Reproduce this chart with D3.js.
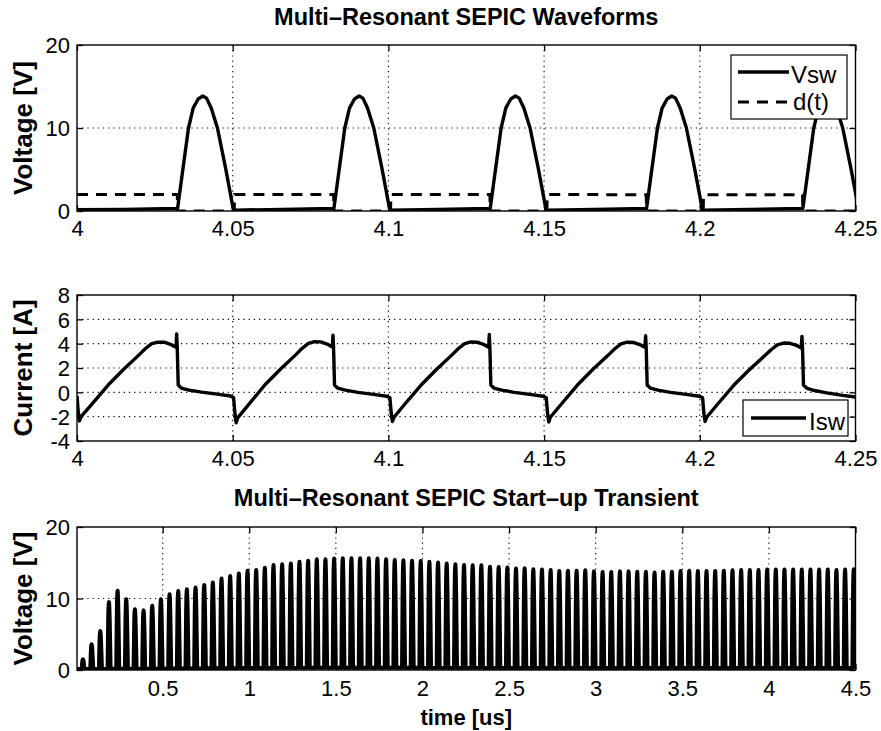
<!DOCTYPE html>
<html><head><meta charset="utf-8">
<script src="https://cdn.jsdelivr.net/npm/d3@7"></script>
<style>
body{margin:0;background:#fff}
svg{display:block}
text{font-family:"Liberation Sans",Arial,Helvetica,sans-serif;fill:#000}
</style>
</head><body>
<svg id="c" width="881" height="731"></svg>
<script>
// ---------------- DATA ----------------
const wfTicksX = [4, 4.05, 4.1, 4.15, 4.2, 4.25];
const wfTickLabels = ["4", "4.05", "4.1", "4.15", "4.2", "4.25"];
const vTicks = [0, 10, 20];
const vTickLabels = ["0", "10", "20"];
const iTicks = [-4, -2, 0, 2, 4, 6, 8];
const iTickLabels = ["-4", "-2", "0", "2", "4", "6", "8"];
const trTicksX = [0.5, 1, 1.5, 2, 2.5, 3, 3.5, 4, 4.5];
const trTickLabels = ["0.5", "1", "1.5", "2", "2.5", "3", "3.5", "4", "4.5"];

// Vsw (top panel) [time us, volts]
const vswPts = [
 [4.0000,0.15],[4.0150,0.2],[4.0320,0.3],
 [4.0323,0.3],[4.0341,5.3],[4.0358,10.0],[4.0373,12.4],[4.0389,13.5],[4.0404,13.85],[4.0416,13.6],[4.0431,12.4],[4.0451,10.0],[4.0477,5.2],[4.0502,0.2],
 [4.0507,0.1],[4.0660,0.2],[4.0822,0.3],
 [4.0825,0.3],[4.0843,5.3],[4.0860,10.0],[4.0875,12.4],[4.0891,13.5],[4.0906,13.85],[4.0918,13.6],[4.0933,12.4],[4.0953,10.0],[4.0979,5.2],[4.1004,0.2],
 [4.1009,0.1],[4.1160,0.2],[4.1324,0.3],
 [4.1327,0.3],[4.1345,5.3],[4.1362,10.0],[4.1377,12.4],[4.1393,13.5],[4.1408,13.85],[4.1420,13.6],[4.1435,12.4],[4.1455,10.0],[4.1481,5.2],[4.1506,0.2],
 [4.1511,0.1],[4.1660,0.2],[4.1826,0.3],
 [4.1829,0.3],[4.1847,5.3],[4.1864,10.0],[4.1879,12.4],[4.1895,13.5],[4.1910,13.85],[4.1922,13.6],[4.1937,12.4],[4.1957,10.0],[4.1983,5.2],[4.2008,0.2],
 [4.2013,0.1],[4.2160,0.2],[4.2328,0.3],
 [4.2331,0.3],[4.2349,5.3],[4.2366,10.0],[4.2381,12.4],[4.2397,13.5],[4.2412,13.85],[4.2424,13.6],[4.2439,12.4],[4.2459,10.0],[4.2485,5.2],[4.2510,0.2]
];
// d(t) (top panel)
const dPts = [
 [4.0000,2.0],[4.0322,2.0],[4.0323,0],[4.0505,0],[4.0506,2.0],
 [4.0824,2.0],[4.0825,0],[4.1007,0],[4.1008,2.0],
 [4.1326,2.0],[4.1327,0],[4.1509,0],[4.1510,2.0],
 [4.1828,1.95],[4.1829,0],[4.2011,0],[4.2012,1.95],
 [4.2330,1.95],[4.2331,0],[4.2500,0]
];
// Isw (middle panel) [time us, amps]
const iswPts = [
 [4.0000,-0.3],[4.0004,-1.6],[4.0008,-2.35],[4.0013,-2.0],[4.0050,-0.9],[4.0100,0.6],[4.0150,1.9],[4.0200,3.1],[4.0220,3.6],[4.0240,4.0],[4.0260,4.13],[4.0280,4.12],[4.0300,3.95],[4.0318,3.7],[4.0320,4.8],[4.0322,3.6],[4.0325,0.6],[4.0335,0.35],[4.0360,0.18],[4.0400,0.02],[4.0450,-0.15],[4.0493,-0.3],[4.0503,-0.45],[4.0507,-1.7],
 [4.0511,-2.5],[4.0516,-2.1],[4.0553,-0.95],[4.0603,0.6],[4.0653,1.9],[4.0703,3.1],[4.0723,3.62],[4.0743,4.02],[4.0763,4.17],[4.0783,4.15],[4.0803,3.97],[4.0820,3.72],[4.0822,4.7],[4.0824,3.6],[4.0827,0.6],[4.0837,0.35],[4.0862,0.18],[4.0902,0.0],[4.0952,-0.17],[4.0995,-0.32],[4.1005,-0.45],[4.1009,-1.7],
 [4.1013,-2.4],[4.1018,-2.05],[4.1055,-0.9],[4.1105,0.6],[4.1155,1.9],[4.1205,3.1],[4.1225,3.6],[4.1245,4.0],[4.1265,4.14],[4.1285,4.12],[4.1305,3.95],[4.1322,3.7],[4.1324,4.75],[4.1326,3.6],[4.1329,0.6],[4.1339,0.35],[4.1364,0.18],[4.1404,0.0],[4.1454,-0.17],[4.1497,-0.32],[4.1507,-0.45],[4.1511,-1.7],
 [4.1515,-2.45],[4.1520,-2.05],[4.1557,-0.92],[4.1607,0.6],[4.1657,1.9],[4.1707,3.08],[4.1727,3.58],[4.1747,3.98],[4.1767,4.12],[4.1787,4.1],[4.1807,3.93],[4.1824,3.7],[4.1826,4.65],[4.1828,3.6],[4.1831,0.6],[4.1841,0.35],[4.1866,0.18],[4.1906,0.0],[4.1956,-0.17],[4.1999,-0.32],[4.2009,-0.45],[4.2013,-1.7],
 [4.2017,-2.4],[4.2022,-2.05],[4.2059,-0.92],[4.2109,0.58],[4.2159,1.85],[4.2209,3.02],[4.2229,3.5],[4.2249,3.9],[4.2269,4.05],[4.2289,4.03],[4.2309,3.88],[4.2326,3.65],[4.2328,4.6],[4.2330,3.55],[4.2333,0.6],[4.2343,0.35],[4.2368,0.15],[4.2408,-0.05],[4.2458,-0.25],[4.2500,-0.38]
];
// Start-up transient: peak voltage of each switching pulse (one every 0.05 us, first peak at 0.04 us)
const trFirstPeak = 0.04;
const trPeriod = 0.05;
const trPeaks = [
 1.5,3.6,5.45,9.5,11.1,9.9,8.5,8.35,9.0,9.9,
 10.6,11.05,11.3,11.55,11.9,12.25,12.8,13.15,13.5,13.9,
 14.0,14.3,14.7,14.8,14.9,15.15,15.3,15.5,15.5,15.6,
 15.65,15.65,15.65,15.65,15.6,15.5,15.4,15.35,15.3,15.25,
 15.15,15.05,14.9,14.8,14.7,14.65,14.65,14.45,14.4,14.35,
 14.2,14.25,14.1,14.05,14.0,13.85,13.9,13.9,13.95,13.8,
 13.7,13.7,13.8,13.8,13.75,13.75,13.65,13.75,13.75,13.85,
 13.9,13.85,13.85,13.85,13.9,13.95,14.0,14.0,14.0,14.05,
 14.05,14.05,14.05,14.05,14.05,14.05,14.05,14.0,14.05,14.1
];
// pulse shape relative to its peak (time offset us, fraction of peak)
const pulseDt   = [-0.0083,-0.0065,-0.0048,-0.0033,-0.0017,0,0.0012,0.0027,0.0047,0.0073,0.0098];
const pulseFrac = [0.02,0.38,0.72,0.9,0.975,1,0.98,0.9,0.72,0.37,0.02];
const trBase = 0.15;

// ---------------- DRAW ----------------
const svg = d3.select("#c");
svg.append("rect").attr("width",881).attr("height",731).attr("fill","#fff");
const FONT = '"Liberation Sans",Arial,Helvetica,sans-serif';

function panel(o){
  const g = svg.append("g");
  const x = d3.scaleLinear().domain(o.xDomain).range([o.left,o.right]);
  const y = d3.scaleLinear().domain(o.yDomain).range([o.bottom,o.top]);
  const cid = "clip"+o.id;
  svg.append("clipPath").attr("id",cid).append("rect")
    .attr("x",o.left).attr("y",o.top).attr("width",o.right-o.left).attr("height",o.bottom-o.top);
  const gg = g.append("g").attr("stroke","#000").attr("stroke-width",1.1).attr("stroke-dasharray","1.2,4");
  o.xGrid.forEach(v=>gg.append("line").attr("x1",x(v)).attr("x2",x(v)).attr("y1",o.top).attr("y2",o.bottom));
  o.yGrid.forEach(v=>gg.append("line").attr("x1",o.left).attr("x2",o.right).attr("y1",y(v)).attr("y2",y(v)));
  const dg = g.append("g").attr("clip-path",`url(#${cid})`);
  return {g,x,y,dg,o};
}
function axes(p){
  const {g,x,y,o} = p;
  const ax = g.append("g").attr("transform",`translate(0,${o.bottom})`)
    .call(d3.axisBottom(x).tickValues(o.xTicks).tickFormat((d,i)=>o.xLabels[i]).tickSize(-6).tickSizeOuter(0));
  const ay = g.append("g").attr("transform",`translate(${o.left},0)`)
    .call(d3.axisLeft(y).tickValues(o.yTicks).tickFormat((d,i)=>o.yLabels[i]).tickSize(-6).tickSizeOuter(0));
  const at = g.append("g").attr("transform",`translate(0,${o.top})`)
    .call(d3.axisTop(x).tickValues(o.xTicks).tickFormat("").tickSize(-6).tickSizeOuter(0));
  const ar = g.append("g").attr("transform",`translate(${o.right},0)`)
    .call(d3.axisRight(y).tickValues(o.yTicks).tickFormat("").tickSize(-6).tickSizeOuter(0));
  [ax,ay,at,ar].forEach(a=>{a.select(".domain").remove(); a.selectAll("line").attr("stroke-width",1.3);
    a.attr("font-family",FONT).attr("font-size",22);});
  ax.selectAll("text").attr("y",o.xLabelOff).attr("dy",0).style("font-size","22px");
  ay.selectAll("text").attr("x",-7).attr("dy","0.36em").style("font-size","22px");
  g.append("rect").attr("x",o.left).attr("y",o.top).attr("width",o.right-o.left).attr("height",o.bottom-o.top)
    .attr("fill","none").attr("stroke","#000").attr("stroke-width",1.4);
  g.append("text").attr("transform",`translate(${o.yLabelX},${(o.top+o.bottom)/2}) rotate(-90)`)
    .attr("text-anchor","middle").style("font-size","26px").style("font-weight","bold").text(o.yTitle);
}

const L = 77, R = 855.5;
// ---- Panel 1
const p1 = panel({id:1,left:L,right:R,top:45,bottom:211,xDomain:[4,4.25],yDomain:[0,20],
  xTicks:wfTicksX,xLabels:wfTickLabels,yTicks:vTicks,yLabels:vTickLabels,
  xGrid:wfTicksX.slice(1,-1),yGrid:[10],xLabelOff:25,yLabelX:32,yTitle:"Voltage [V]"});
const line1 = d3.line().x(d=>p1.x(d[0])).y(d=>p1.y(d[1]));
p1.dg.append("path").attr("d",line1(dPts)).attr("fill","none").attr("stroke","#000")
  .attr("stroke-width",3).attr("stroke-dasharray","11,8");
p1.dg.append("path").attr("d",line1(vswPts)).attr("fill","none").attr("stroke","#000")
  .attr("stroke-width",3.4).attr("stroke-linejoin","round");
axes(p1);
svg.append("text").attr("x",(L+R)/2).attr("y",25).attr("text-anchor","middle")
  .style("font-size","23.5px").style("font-weight","bold").text("Multi–Resonant SEPIC Waveforms");
const lg1 = svg.append("g");
lg1.append("rect").attr("x",731).attr("y",55).attr("width",116).attr("height",64).attr("fill","#fff").attr("stroke","#000").attr("stroke-width",1.2);
lg1.append("line").attr("x1",738).attr("x2",789).attr("y1",72).attr("y2",72).attr("stroke","#000").attr("stroke-width",3.4);
lg1.append("text").attr("x",791).attr("y",83).style("font-size","24px").text("Vsw");
lg1.append("line").attr("x1",738).attr("x2",789).attr("y1",102).attr("y2",102).attr("stroke","#000").attr("stroke-width",3).attr("stroke-dasharray","11,8");
lg1.append("text").attr("x",793).attr("y",110).style("font-size","24px").text("d(t)");

// ---- Panel 2
const p2 = panel({id:2,left:L,right:R,top:295,bottom:441,xDomain:[4,4.25],yDomain:[-4,8],
  xTicks:wfTicksX,xLabels:wfTickLabels,yTicks:iTicks,yLabels:iTickLabels,
  xGrid:wfTicksX.slice(1,-1),yGrid:[-2,0,2,4,6],xLabelOff:25,yLabelX:32,yTitle:"Current [A]"});
const line2 = d3.line().x(d=>p2.x(d[0])).y(d=>p2.y(d[1]));
p2.dg.append("path").attr("d",line2(iswPts)).attr("fill","none").attr("stroke","#000")
  .attr("stroke-width",3.4).attr("stroke-linejoin","round");
axes(p2);
const lg2 = svg.append("g");
lg2.append("rect").attr("x",743).attr("y",400).attr("width",105).attr("height",36).attr("fill","#fff").attr("stroke","#000").attr("stroke-width",1.2);
lg2.append("line").attr("x1",751).attr("x2",806).attr("y1",418).attr("y2",418).attr("stroke","#000").attr("stroke-width",3.4);
lg2.append("text").attr("x",809).attr("y",430).style("font-size","24px").text("Isw");

// ---- Panel 3
const p3 = panel({id:3,left:L,right:R,top:527,bottom:670,xDomain:[0.0055,4.5],yDomain:[0,20],
  xTicks:trTicksX,xLabels:trTickLabels,yTicks:vTicks,yLabels:vTickLabels,
  xGrid:trTicksX.slice(0,-1),yGrid:[10],xLabelOff:26,yLabelX:32,yTitle:"Voltage [V]"});
const trPts = [[0.0055,trBase]];
trPeaks.forEach((pk,i)=>{
  const tp = trFirstPeak + trPeriod*i;
  pulseDt.forEach((dt,j)=>trPts.push([tp+dt, Math.max(trBase, pk*pulseFrac[j])]));
});
trPts.push([4.5,trBase]);
const line3 = d3.line().x(d=>p3.x(d[0])).y(d=>p3.y(d[1]));
p3.dg.append("path").attr("d",line3(trPts)).attr("fill","none").attr("stroke","#000")
  .attr("stroke-width",3.9).attr("stroke-linejoin","round");
axes(p3);
svg.append("text").attr("x",(L+R)/2).attr("y",506).attr("text-anchor","middle")
  .style("font-size","23.5px").style("font-weight","bold").text("Multi–Resonant SEPIC Start–up Transient");
svg.append("text").attr("x",(L+R)/2).attr("y",725).attr("text-anchor","middle")
  .style("font-size","22px").style("font-weight","bold").text("time [us]");
</script>
</body></html>
